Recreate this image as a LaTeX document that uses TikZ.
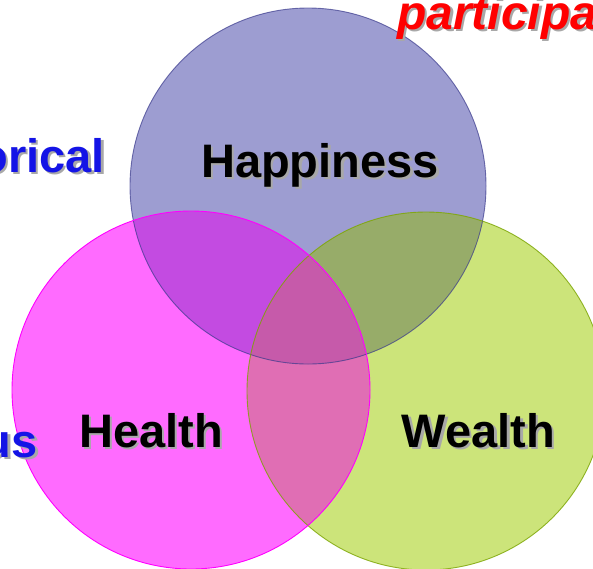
\documentclass[tikz,border=0pt]{standalone}
\usepackage{fontspec}
\setmainfont{Liberation Sans}
\definecolor{happC}{HTML}{9D9DD1}
\definecolor{healthC}{HTML}{FF6BFF}
\definecolor{wealthC}{HTML}{CCE47A}
\definecolor{hhC}{HTML}{C34BE1}
\definecolor{hwC}{HTML}{97AC69}
\definecolor{ewC}{HTML}{E06EB4}
\definecolor{triC}{HTML}{C65AAA}
\definecolor{happE}{HTML}{3A3A8C}
\definecolor{healthE}{HTML}{FF00FF}
\definecolor{wealthE}{HTML}{99CC00}
\definecolor{shadowC}{HTML}{A8A8A8}
\definecolor{blueT}{HTML}{1414E6}
\definecolor{redT}{HTML}{FF0000}
\begin{document}
\begin{tikzpicture}[x=1pt,y=-1pt,
  big/.style={font=\fontsize{47}{50}\selectfont\bfseries, inner sep=0pt},
  shade/.style={big, text=shadowC},
  edge/.style={line width=0.9pt}]
\useasboundingbox (0,0) rectangle (593,568);
\clip (0,0) rectangle (593,568);
\coordinate (cHapp) at (308,186);
\coordinate (cHealth) at (191,390);
\coordinate (cWealth) at (426,391);
% base fills
\fill[happC] (cHapp) circle[radius=178pt];
\fill[wealthC] (cWealth) circle[radius=179pt];
\fill[healthC] (cHealth) circle[radius=179pt];
% pairwise overlaps
\begin{scope}
  \clip (cHapp) circle[radius=178pt];
  \fill[hhC] (cHealth) circle[radius=179pt];
  \fill[hwC] (cWealth) circle[radius=179pt];
\end{scope}
\begin{scope}
  \clip (cHealth) circle[radius=179pt];
  \fill[ewC] (cWealth) circle[radius=179pt];
\end{scope}
\begin{scope}
  \clip (cHapp) circle[radius=178pt];
  \clip (cHealth) circle[radius=179pt];
  \fill[triC] (cWealth) circle[radius=179pt];
\end{scope}
% edges
\draw[edge, happE, opacity=0.7] (cHapp) circle[radius=178pt];
\draw[edge, wealthE!80!black, opacity=0.8] (cWealth) circle[radius=179pt];
\draw[edge, healthE] (cHealth) circle[radius=179pt];
% labels
\node[shade, anchor=base] (happS) at (322.5,179.5) {Happiness};
\node[big, anchor=base] (happT) at (320,177) {Happiness};
\node[shade, anchor=base] (healthS) at (153.5,449.5) {Health};
\node[big, anchor=base] (healthT) at (151,447) {Health};
\node[shade, anchor=base] (wealthS) at (481,449.5) {Wealth};
\node[big, anchor=base] (wealthT) at (478.5,447) {Wealth};
% partial side texts
\node[shade, anchor=base east] (oricS) at (107.5,174.5) {orical};
\node[big, text=blueT, anchor=base east] (oricT) at (105,172) {orical};
\node[shade, anchor=base east] (usS) at (40.5,459.5) {us};
\node[big, text=blueT, anchor=base east] (usT) at (38,457) {us};
\node[shade, anchor=base west, font=\fontsize{48}{50}\selectfont\bfseries\itshape] (partS) at (399.5,31.5) {participa};
\node[big, text=redT, anchor=base west, font=\fontsize{48}{50}\selectfont\bfseries\itshape] (partT) at (397,29) {participa};
\end{tikzpicture}
\end{document}
